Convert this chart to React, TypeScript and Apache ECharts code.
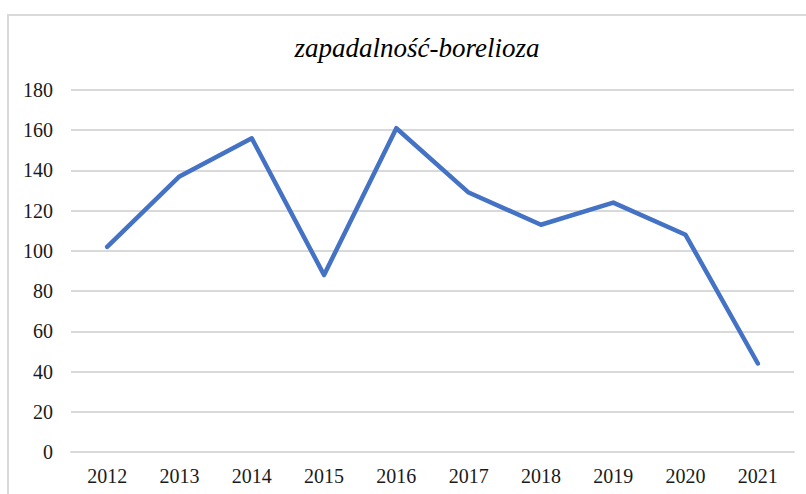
import React, { useEffect, useRef } from "react";
import * as echarts from "echarts";

const titleText = "zapadalność-borelioza";
const years = ["2012", "2013", "2014", "2015", "2016", "2017", "2018", "2019", "2020", "2021"];
const values = [102, 137, 156, 88, 161, 129, 113, 124, 108, 44];

export default function App() {
  const ref = useRef<HTMLDivElement>(null);
  useEffect(() => {
    if (!ref.current) return;
    const chart = echarts.init(ref.current, undefined, { renderer: "svg" });
    const serif = "Liberation Serif";
    chart.setOption({
      animation: false,
      backgroundColor: "#ffffff",
      title: {
        text: titleText,
        left: 412,
        top: 29,
        textAlign: "center",
        textStyle: {
          fontFamily: serif,
          fontStyle: "italic",
          fontWeight: "normal",
          fontSize: 27,
          color: "#000000",
        },
      },
      graphic: [
        {
          type: "rect",
          shape: { x: 8, y: 15, width: 820, height: 520 },
          style: { fill: "none", stroke: "#d9d9d9", lineWidth: 2 },
          silent: true,
        },
      ],
      grid: { left: 71, right: 12, top: 90, bottom: 42, containLabel: false },
      xAxis: {
        type: "category",
        data: years,
        boundaryGap: true,
        axisTick: { show: false },
        axisLine: { show: true, lineStyle: { color: "#d9d9d9", width: 2 } },
        axisLabel: {
          margin: 14,
          fontFamily: serif,
          fontSize: 20,
          color: "#1a1a1a",
        },
      },
      yAxis: {
        type: "value",
        min: 0,
        max: 180,
        interval: 20,
        axisLine: { show: false },
        axisTick: { show: false },
        splitLine: { show: true, lineStyle: { color: "#d9d9d9", width: 2 } },
        axisLabel: {
          margin: 18,
          fontFamily: serif,
          fontSize: 20,
          color: "#1a1a1a",
        },
      },
      series: [
        {
          type: "line",
          data: values,
          symbol: "none",
          lineStyle: { color: "#4472C4", width: 4.5, cap: "round", join: "round" },
          itemStyle: { color: "#4472C4" },
        },
      ],
    });
    return () => chart.dispose();
  }, []);
  return (
    <div
      ref={ref}
      style={{ position: "fixed", left: 0, top: 0, width: 806, height: 494 }}
    />
  );
}
